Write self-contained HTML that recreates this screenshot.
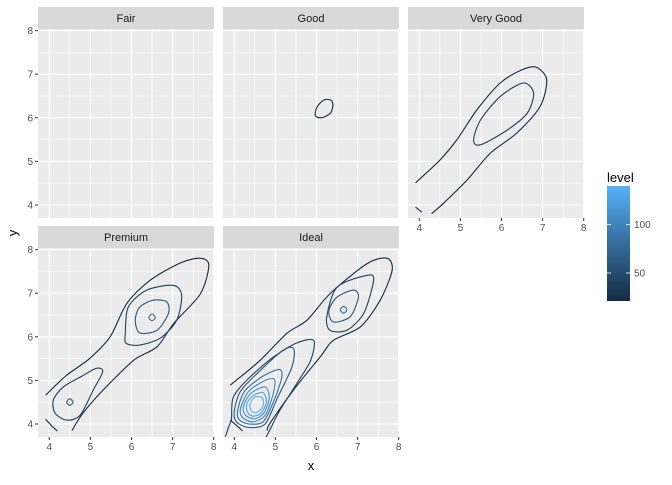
<!DOCTYPE html>
<html><head><meta charset="utf-8"><style>
body{margin:0;background:#fff;}
svg{font-family:"Liberation Sans",sans-serif;}
</style></head><body>
<svg id="chart" width="672" height="480" viewBox="0 0 672 480" xmlns="http://www.w3.org/2000/svg">
<defs>
<linearGradient id="lg" x1="0" y1="1" x2="0" y2="0"><stop offset="0" stop-color="#132B43"/><stop offset="1" stop-color="#56B1F7"/></linearGradient>
</defs>
<g id="root"></g>
</svg>
<script>
const xTicks=[4,5,6,7,8];
const yTicks=[4,5,6,7,8];
const facetNames=["Fair","Good","Very Good","Premium","Ideal"];
const legendTicks=[50,100];
const levelRange=[21,140];
const contourFacet=[1,2,2,2,3,3,3,3,3,3,3,4,4,4,4,4,4,4,4,4,4,4,4];
const contourLevel=[20,20,40,20,20,40,40,60,60,80,20,20,20,40,60,80,100,110,125,140,40,60,80];
const contourClosed=[1,0,1,0,0,1,1,1,1,1,0,0,0,1,1,1,1,1,1,1,1,1,1];
const contourPoints=[
 [[5.97,6.05],[6.0,6.22],[6.1,6.35],[6.22,6.42],[6.36,6.4],[6.4,6.28],[6.35,6.12],[6.22,6.03],[6.08,6.0]],
 [[3.91,4.51],[4.5,5.03],[4.91,5.49],[5.4,6.18],[5.97,6.8],[6.5,7.1],[6.85,7.16],[7.1,6.87],[6.94,6.26],[6.37,5.65],[5.73,5.19],[5.16,4.57],[4.6,4.05],[4.3,3.8]],
 [[5.32,5.49],[5.49,5.95],[5.97,6.49],[6.53,6.8],[6.78,6.57],[6.63,6.11],[6.14,5.72],[5.49,5.38]],
 [[3.91,3.95],[4.02,3.87],[4.06,3.83]],
 [[3.91,4.66],[4.4,5.1],[4.99,5.51],[5.48,6.0],[5.89,6.77],[6.46,7.3],[7.2,7.7],[7.68,7.8],[7.88,7.64],[7.68,6.99],[7.03,6.31],[6.62,5.77],[6.05,5.46],[5.31,4.78],[4.82,4.25],[4.55,3.85]],
 [[4.1,4.55],[4.34,4.85],[4.8,5.1],[5.15,5.28],[5.3,5.2],[5.07,4.78],[4.75,4.2],[4.42,4.09],[4.14,4.25]],
 [[5.85,6.08],[5.92,6.68],[6.37,7.07],[7.02,7.18],[7.22,6.95],[7.1,6.38],[6.7,5.97],[6.2,5.81],[5.87,5.85]],
 [[6.09,6.38],[6.2,6.68],[6.53,6.84],[6.86,6.8],[6.9,6.54],[6.62,6.15],[6.2,6.09]],
 [[4.42,4.5],[4.5,4.58],[4.58,4.5],[4.5,4.43]],
 [[6.42,6.44],[6.5,6.52],[6.58,6.44],[6.5,6.37]],
 [[3.91,4.11],[4.1,3.92],[4.2,3.84]],
 [[3.9,4.89],[4.63,5.46],[5.28,6.08],[5.77,6.38],[6.33,6.99],[7.23,7.68],[7.72,7.8],[7.84,7.52],[7.55,6.84],[7.07,6.23],[6.41,5.92],[6.09,5.54],[5.44,4.78],[4.87,4.02],[4.8,3.85]],
 [[3.9,4.09],[4.1,3.93],[4.2,3.84]],
 [[3.93,4.1],[3.97,4.6],[4.3,5.0],[4.9,5.5],[5.5,5.85],[5.93,5.92],[5.86,5.46],[5.5,4.9],[5.1,4.3],[4.8,3.75],[4.6,3.5],[3.8,3.5],[3.85,3.9]],
 [[4.0,4.3],[4.15,4.75],[4.6,5.2],[5.2,5.7],[5.45,5.72],[5.4,5.3],[5.05,4.6],[4.75,4.0],[4.35,3.92],[4.05,4.05]],
 [[4.08,4.3],[4.25,4.75],[4.7,5.1],[5.1,5.25],[5.15,5.05],[4.95,4.5],[4.7,4.05],[4.35,4.0],[4.12,4.1]],
 [[4.15,4.35],[4.35,4.75],[4.75,5.0],[4.98,5.02],[4.95,4.7],[4.75,4.2],[4.45,4.05],[4.2,4.15]],
 [[4.22,4.4],[4.4,4.7],[4.75,4.85],[4.85,4.6],[4.72,4.25],[4.5,4.12],[4.27,4.2]],
 [[4.3,4.45],[4.45,4.65],[4.7,4.72],[4.78,4.5],[4.65,4.25],[4.45,4.18],[4.32,4.27]],
 [[4.38,4.45],[4.5,4.62],[4.68,4.6],[4.7,4.42],[4.58,4.28],[4.43,4.28]],
 [[6.25,6.46],[6.5,7.14],[7.23,7.41],[7.39,7.3],[7.15,6.54],[6.74,6.15],[6.33,6.15]],
 [[6.3,6.6],[6.5,6.91],[6.9,7.07],[7.02,6.91],[6.82,6.46],[6.41,6.34]],
 [[6.58,6.62],[6.66,6.7],[6.74,6.62],[6.66,6.54]]
];
const NS="http://www.w3.org/2000/svg";
const root=document.getElementById('root');
function mk(t,a,p){const e=document.createElementNS(NS,t);for(const k in a)e.setAttribute(k,a[k]);(p||root).appendChild(e);return e;}
const panels=[{x:38,y:29},{x:223,y:29},{x:408,y:29},{x:38,y:248},{x:223,y:248}];
const PW=176,PH=189;
function sx(p,v){return p.x+11.3+(v-4)*41.1;}
function sy(p,v){return p.y+176-(v-4)*43.6;}
function col(l){const t=Math.max(0,Math.min(1,(l-levelRange[0])/(levelRange[1]-levelRange[0])));const a=[0x13,0x2B,0x43],b=[0x56,0xB1,0xF7];return 'rgb('+a.map((c,i)=>Math.round(c+(b[i]-c)*t)).join(',')+')';}
function crPath(pts,closed){
 const n=pts.length;let d='M'+pts[0][0].toFixed(1)+','+pts[0][1].toFixed(1);
 const g=i=>closed?pts[(i+n)%n]:pts[Math.max(0,Math.min(n-1,i))];
 const m=closed?n:n-1;const k=7;
 for(let i=0;i<m;i++){const p0=g(i-1),p1=g(i),p2=g(i+1),p3=g(i+2);
  const c1=[p1[0]+(p2[0]-p0[0])/k,p1[1]+(p2[1]-p0[1])/k],c2=[p2[0]-(p3[0]-p1[0])/k,p2[1]-(p3[1]-p1[1])/k];
  d+='C'+c1.map(v=>v.toFixed(1))+' '+c2.map(v=>v.toFixed(1))+' '+p2.map(v=>v.toFixed(1));}
 return d+(closed?'Z':'');}
panels.forEach((p,i)=>{
 const g=mk('g',{});
 
 
 const s=mk('rect',{x:p.x,y:p.y-22,width:PW,height:22,fill:'#D9D9D9'},g);
 
 
 const st=mk('text',{x:p.x+PW/2,y:p.y-7,'text-anchor':'middle','font-size':'11',fill:'#1A1A1A'},g);st.textContent=facetNames[i];
 
 
 const bg=mk('rect',{x:p.x,y:p.y,width:PW,height:PH,fill:'#EBEBEB'},g);
 
 
 const cp=mk('clipPath',{id:'c'+i},g);mk('rect',{x:p.x,y:p.y,width:PW,height:PH},cp);
 for(let v=3.5;v<=8.5;v+=0.5){const major=v%1===0;
  const X=sx(p,v);if(X>p.x&&X<p.x+PW)mk('line',{x1:X,x2:X,y1:p.y,y2:p.y+PH,stroke:'#fff','stroke-width':major?1.1:0.55},g);
  const Y=sy(p,v);if(Y>p.y&&Y<p.y+PH)mk('line',{y1:Y,y2:Y,x1:p.x,x2:p.x+PW,stroke:'#fff','stroke-width':major?1.1:0.55},g);}
 const cg=mk('g',{'clip-path':'url(#c'+i+')'},g);
 contourPoints.forEach((pts,k)=>{if(contourFacet[k]!==i)return;
  const pp=pts.map(q=>[sx(p,q[0]),sy(p,q[1])]);
  const e=mk('path',{d:crPath(pp,contourClosed[k]===1),fill:'none',stroke:col(contourLevel[k]),'stroke-width':1.1},cg);
  
  });
 if(i===0||i===3){yTicks.forEach(v=>{const Y=sy(p,v);mk('line',{x1:p.x-3,x2:p.x,y1:Y,y2:Y,stroke:'#333','stroke-width':1},g);
  const t=mk('text',{x:p.x-5,y:Y+3.5,'text-anchor':'end','font-size':'10',fill:'#4D4D4D'},g);t.textContent=v;
  
  });}
 if(i>=2){xTicks.forEach(v=>{const X=sx(p,v);mk('line',{x1:X,x2:X,y1:p.y+PH,y2:p.y+PH+3,stroke:'#333','stroke-width':1},g);
  const t=mk('text',{x:X,y:p.y+PH+13,'text-anchor':'middle','font-size':'10',fill:'#4D4D4D'},g);t.textContent=v;
  
  });}
});
const xl=mk('text',{x:311,y:470,'text-anchor':'middle','font-size':'13',fill:'#000'});xl.textContent='x';


const yl=mk('text',{x:17,y:233,'text-anchor':'middle','font-size':'13',fill:'#000',transform:'rotate(-90 17 233)'});yl.textContent='y';


const lg=mk('g',{});


const lt=mk('text',{x:607,y:182,'font-size':'13',fill:'#000'},lg);lt.textContent='level';


const bar=mk('rect',{x:607,y:186,width:23,height:115,fill:'url(#lg)'},lg);


legendTicks.forEach(v=>{const Y=301-(v-levelRange[0])/(levelRange[1]-levelRange[0])*115;
 mk('line',{x1:607,x2:611,y1:Y,y2:Y,stroke:'#fff','stroke-width':0.8},lg);mk('line',{x1:626,x2:630,y1:Y,y2:Y,stroke:'#fff','stroke-width':0.8},lg);
 const t=mk('text',{x:634,y:Y+3.5,'font-size':'10',fill:'#4D4D4D'},lg);t.textContent=v;
 
 });
</script>
</body></html>
